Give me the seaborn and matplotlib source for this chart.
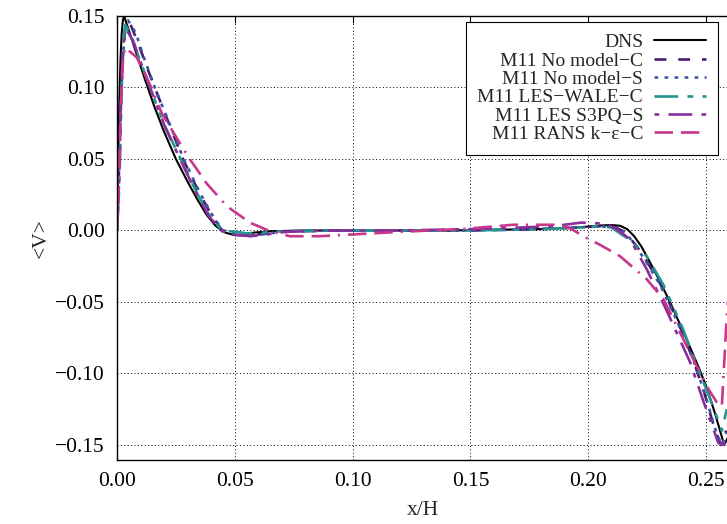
import matplotlib
matplotlib.use("Agg")
import matplotlib.pyplot as plt
import seaborn as sns
import pandas as pd

# ---- data -----------------------------------------------------------------
labels = ["DNS", "M11 No model\u2212C", "M11 No model\u2212S",
          "M11 LES\u2212WALE\u2212C", "M11 LES S3PQ\u2212S", "M11 RANS k\u2212\u03b5\u2212C"]

dns_x = [0, 0.0005, 0.001, 0.0015, 0.002, 0.0025, 0.003, 0.005, 0.008, 0.012, 0.016,
         0.020, 0.025, 0.030, 0.034, 0.038, 0.042, 0.046, 0.050, 0.054, 0.058, 0.065,
         0.08, 0.10, 0.12, 0.14, 0.16, 0.18, 0.195, 0.205, 0.21, 0.2135, 0.2165,
         0.2195, 0.2225, 0.2255, 0.229, 0.2347, 0.2404, 0.2467, 0.2503, 0.254,
         0.2577, 0.2592]
dns_y = [0, 0.05, 0.09, 0.12, 0.138, 0.147, 0.150, 0.140, 0.125, 0.105, 0.086,
         0.069, 0.050, 0.034, 0.022, 0.011, 0.003, -0.0015, -0.0033, -0.003, -0.0015,
         -0.0005, 0, 0, 0, 0, 0.0005, 0.001, 0.002, 0.0035, 0.0038, 0.0033, 0.001,
         -0.004, -0.011, -0.020, -0.031, -0.050, -0.071, -0.095, -0.110, -0.129,
         -0.150, -0.145]

nmc_x = [0, 0.0008, 0.0015, 0.0025, 0.0035, 0.0045, 0.006, 0.009, 0.0125, 0.0165,
         0.022, 0.028, 0.035, 0.040, 0.0446, 0.050, 0.056, 0.062, 0.07, 0.09, 0.12,
         0.15, 0.18, 0.195, 0.205, 0.211, 0.2149, 0.2175, 0.2206, 0.225, 0.2305,
         0.2376, 0.244, 0.249, 0.253, 0.2562, 0.2585]
nmc_y = [0, 0.04, 0.085, 0.125, 0.141, 0.146, 0.143, 0.131, 0.115, 0.098,
         0.075, 0.050, 0.026, 0.011, 0.0, -0.003, -0.0035, -0.0025, -0.001, 0, 0,
         0, 0.001, 0.002, 0.003, 0.0025, -0.0005, -0.005, -0.011, -0.022, -0.037,
         -0.062, -0.088, -0.112, -0.135, -0.150, -0.140]

nms_x = [0, 0.0008, 0.0015, 0.0025, 0.0035, 0.0047, 0.008, 0.0112, 0.016, 0.022,
         0.028, 0.035, 0.040, 0.0446, 0.050, 0.057, 0.063, 0.07, 0.09, 0.12, 0.15,
         0.18, 0.195, 0.205, 0.211, 0.2149, 0.2175, 0.2206, 0.225, 0.2305, 0.2376,
         0.2445, 0.2495, 0.2535, 0.2565, 0.2588]
nms_y = [0, 0.035, 0.08, 0.122, 0.140, 0.147, 0.138, 0.122, 0.100, 0.076,
         0.051, 0.027, 0.012, 0.0005, -0.0025, -0.0035, -0.0023, -0.001, 0, 0, 0,
         0.001, 0.002, 0.003, 0.002, -0.0005, -0.005, -0.012, -0.023, -0.038, -0.063,
         -0.090, -0.114, -0.137, -0.150, -0.141]

wale_x = [0, 0.0007, 0.0013, 0.002, 0.0028, 0.0035, 0.006, 0.010, 0.014, 0.020,
          0.027, 0.034, 0.039, 0.0445, 0.051, 0.055, 0.062, 0.07, 0.09, 0.12, 0.15,
          0.18, 0.195, 0.205, 0.210, 0.2135, 0.218, 0.2248, 0.2319, 0.240, 0.246,
          0.2524, 0.2567, 0.2588]
wale_y = [0, 0.02, 0.05, 0.10, 0.133, 0.144, 0.136, 0.118, 0.100, 0.074,
          0.050, 0.026, 0.011, 0.0, -0.001, -0.002, -0.0015, -0.0005, 0, 0, 0,
          0.001, 0.002, 0.003, 0.002, -0.002, -0.007, -0.018, -0.038, -0.068, -0.094,
          -0.1205, -0.140, -0.125]

s3pq_x = [0, 0.0007, 0.0013, 0.002, 0.003, 0.0042, 0.007, 0.010, 0.0145, 0.020,
          0.027, 0.034, 0.039, 0.0445, 0.050, 0.0565, 0.063, 0.07, 0.09, 0.12, 0.15,
          0.17, 0.185, 0.197, 0.205, 0.209, 0.212, 0.2177, 0.2248, 0.233, 0.2432,
          0.249, 0.2552, 0.2575, 0.259]
s3pq_y = [0, 0.03, 0.067, 0.11, 0.134, 0.140, 0.132, 0.118, 0.098, 0.074,
          0.049, 0.025, 0.010, -0.0005, -0.003, -0.004, -0.003, -0.001, 0, 0, 0.001,
          0.002, 0.003, 0.0055, 0.005, 0.0035, 0.001, -0.006, -0.027, -0.055, -0.092,
          -0.120, -0.1485, -0.150, -0.140]

rans_x = [0, 0.0008, 0.0015, 0.0025, 0.0034, 0.0084, 0.014, 0.019, 0.0267, 0.031,
          0.038, 0.0466, 0.0565, 0.065, 0.0734, 0.086, 0.1116, 0.13, 0.148, 0.168,
          0.1866, 0.1925, 0.1978, 0.205, 0.2135, 0.2248, 0.2319, 0.2446, 0.2503,
          0.2545, 0.2567, 0.2588, 0.2598]
rans_y = [0, 0.03, 0.08, 0.118, 0.128, 0.121, 0.102, 0.082, 0.061, 0.0497,
          0.033, 0.017, 0.0054, -0.0005, -0.004, -0.004, -0.0017, -0.0002, 0.0012, 0.004,
          0.004, 0.0015, -0.004, -0.010, -0.018, -0.034, -0.048, -0.090, -0.109,
          -0.120, -0.123, -0.060, -0.040]

xs = [dns_x, nmc_x, nms_x, wale_x, s3pq_x, rans_x]
ys = [dns_y, nmc_y, nms_y, wale_y, s3pq_y, rans_y]

x_ticks = [0.00, 0.05, 0.10, 0.15, 0.20, 0.25]
y_ticks = [-0.15, -0.10, -0.05, 0.00, 0.05, 0.10, 0.15]

# ---- styling --------------------------------------------------------------
colors = ["#000000", "#4a1c6e", "#3b57a4", "#21968c", "#8a2e9c", "#c8378b"]
styles = ["-", (0, (4.5, 4.5)), (0, (1.4, 2.4)), (0, (9, 3.5, 2.2, 3.5, 2.2, 3.5)),
          (0, (1.8, 3.5, 9, 3.5)), (0, (7, 3, 7, 3, 0.8, 3))]
widths = [1.5, 1.9, 1.9, 1.9, 1.9, 1.9]

sns.set_theme(style="white")
plt.rcParams["font.family"] = ["Liberation Serif", "DejaVu Serif"]
plt.rcParams["axes.unicode_minus"] = True

fig = plt.figure(figsize=(7.27, 5.24), dpi=100)
ax = fig.add_axes([117 / 727, 64 / 524, 612.6 / 727, 444 / 524])

for lab, x, y, c, ls, lw in zip(labels, xs, ys, colors, styles, widths):
    df = pd.DataFrame({"x": x, "y": y})
    sns.lineplot(data=df, x="x", y="y", ax=ax, color=c, linestyle=ls, linewidth=lw,
                 label=lab, estimator=None, sort=False)

ax.set_xlim(0, 0.26)
ax.set_ylim(-0.1605, 0.15)
ax.set_xticks(x_ticks)
ax.set_yticks(y_ticks)
ax.set_xticklabels([f"{v:.2f}" for v in x_ticks])
ax.set_yticklabels([f"{v:.2f}".replace("-", "\u2212") for v in y_ticks])
ax.tick_params(direction="in", length=5, width=0.8, colors="black", labelsize=15.5,
               top=True, right=False, pad=9)
ax.grid(True, color="black", linestyle=(0, (1, 2.5)), linewidth=0.7)
for s in ax.spines.values():
    s.set_color("black")
    s.set_linewidth(1.0)

ax.set_xlabel("x/H", fontsize=15.5, labelpad=7)
ax.set_ylabel("<V>", fontsize=15.5, labelpad=3)

leg = ax.legend(loc="upper right", bbox_to_anchor=(0.981, 0.9865), borderaxespad=0,
                markerfirst=False, fontsize=14, handlelength=2.7, handletextpad=0.55,
                labelspacing=0.04, borderpad=0.6, fancybox=False, framealpha=1,
                edgecolor="black")
leg.get_frame().set_linewidth(0.8)

fig.savefig("out.png", dpi=100)
